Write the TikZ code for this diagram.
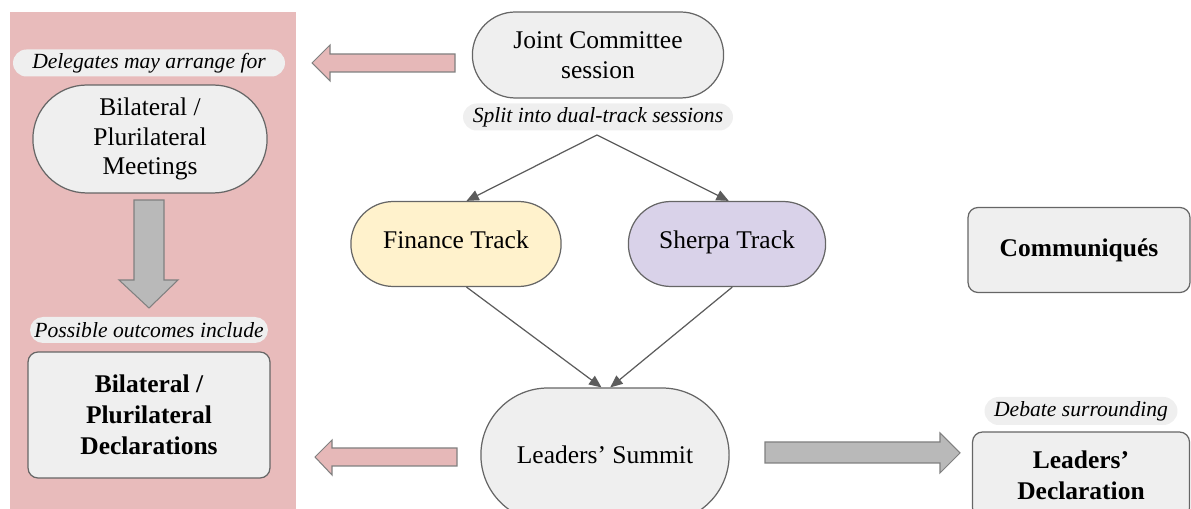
\documentclass[tikz,border=0pt]{standalone}
\usepackage{fontspec}
\setmainfont{Liberation Serif}
\usetikzlibrary{arrows.meta, shapes.misc}

\definecolor{panelpink}{HTML}{E8BBBB}
\definecolor{arrowpink}{HTML}{E6B8B8}
\definecolor{boxgray}{HTML}{EFEFEF}
\definecolor{edgegray}{HTML}{666666}
\definecolor{blockgray}{HTML}{B9B9B9}
\definecolor{financeyellow}{HTML}{FFF2CC}
\definecolor{sherpapurple}{HTML}{D9D2E9}

\tikzset{
  stadium/.style={rounded rectangle, draw=edgegray, line width=0.7pt, fill=boxgray,
    align=center, font=\fontsize{14.5}{17}\selectfont},
  declbox/.style={rectangle, rounded corners=0.2cm, draw=edgegray, line width=0.7pt,
    fill=boxgray, align=center, font=\fontsize{14.5}{17.5}\selectfont\bfseries},
  tagpill/.style={rounded rectangle, fill=boxgray, draw=none, inner sep=0pt,
    font=\fontsize{12.3}{14}\selectfont\itshape},
  flow/.style={draw=edgegray!90!black, line width=0.7pt, -{Triangle[length=7pt, width=6pt]}},
  pinkblock/.style={draw=gray, line width=0.6pt, fill=arrowpink},
  grayblock/.style={draw=gray, line width=0.6pt, fill=blockgray}
}

\begin{document}
\begin{tikzpicture}[x=0.02cm, y=-0.02cm]
    \useasboundingbox (0,0) rectangle (1191,509);
    \clip (0,0) rectangle (1191,509);

    % side panel
    \fill[panelpink] (10,12) rectangle (296,520);

    \node[tagpill, minimum width=5.44cm, minimum height=0.54cm] (arrange) at (149,63) {Delegates may arrange for};
    \node[stadium, minimum width=4.92cm, minimum height=2.16cm] (meetings) at (150,139) {Bilateral /\\Plurilateral\\Meetings};
    \draw[grayblock] (134,200) -- (164,200) -- (164,280) -- (178,280) -- (149,308)
        -- (119,280) -- (134,280) -- cycle;
    \node[tagpill, minimum width=4.76cm, minimum height=0.52cm] (outcomes) at (149,330) {Possible outcomes include};
    \node[declbox, minimum width=4.84cm, minimum height=2.52cm] (bideclare) at (149,415) {Bilateral /\\Plurilateral\\Declarations};

    % main track
    \node[stadium, minimum width=5.26cm, minimum height=1.72cm] (joint) at (598,55) {Joint Committee\\session};
    \node[tagpill, minimum width=5.4cm, minimum height=0.54cm] (split) at (598,117) {Split into dual-track sessions};
    \node[stadium, fill=financeyellow, minimum width=4.44cm, minimum height=1.7cm,
        text height=1.6ex, text depth=0.5ex] (finance) at (456,244) {Finance Track};
    \node[stadium, fill=sherpapurple, minimum width=4.18cm, minimum height=1.7cm,
        text height=1.6ex, text depth=0.5ex] (sherpa) at (727,244) {Sherpa Track};
    \node[stadium, minimum width=5.2cm, minimum height=2.68cm] (summit) at (605,455) {Leaders’ Summit};

    \coordinate (fork) at (597,135);
    \draw[flow] (fork) -- ([xshift=6]finance.north);
    \draw[flow] (fork) -- ([xshift=1]sherpa.north);
    \draw[flow] ([xshift=6]finance.south) -- ([xshift=-2]summit.north);
    \draw[flow] ([xshift=3]sherpa.south) -- ([xshift=3]summit.north);

    % outputs
    \node[declbox, minimum width=4.44cm, minimum height=1.7cm] (communique) at (1079,250) {Communiqués};
    \node[tagpill, minimum width=3.86cm, minimum height=0.56cm] (debate) at (1081,411) {Debate surrounding};
    \node[declbox, minimum width=4.34cm, minimum height=1.72cm] (leadersdecl) at (1081,475) {Leaders’\\Declaration};

    % block arrows
    \draw[pinkblock] (455,54) -- (330,54) -- (330,45) -- (312,63) -- (330,81)
        -- (330,72) -- (455,72) -- cycle;
    \draw[pinkblock] (457,448) -- (332,448) -- (332,440) -- (315,457) -- (332,475)
        -- (332,466) -- (457,466) -- cycle;
    \draw[grayblock] (765,442) -- (940,442) -- (940,433) -- (960,453) -- (940,473)
        -- (940,463) -- (765,463) -- cycle;
\end{tikzpicture}
\end{document}
